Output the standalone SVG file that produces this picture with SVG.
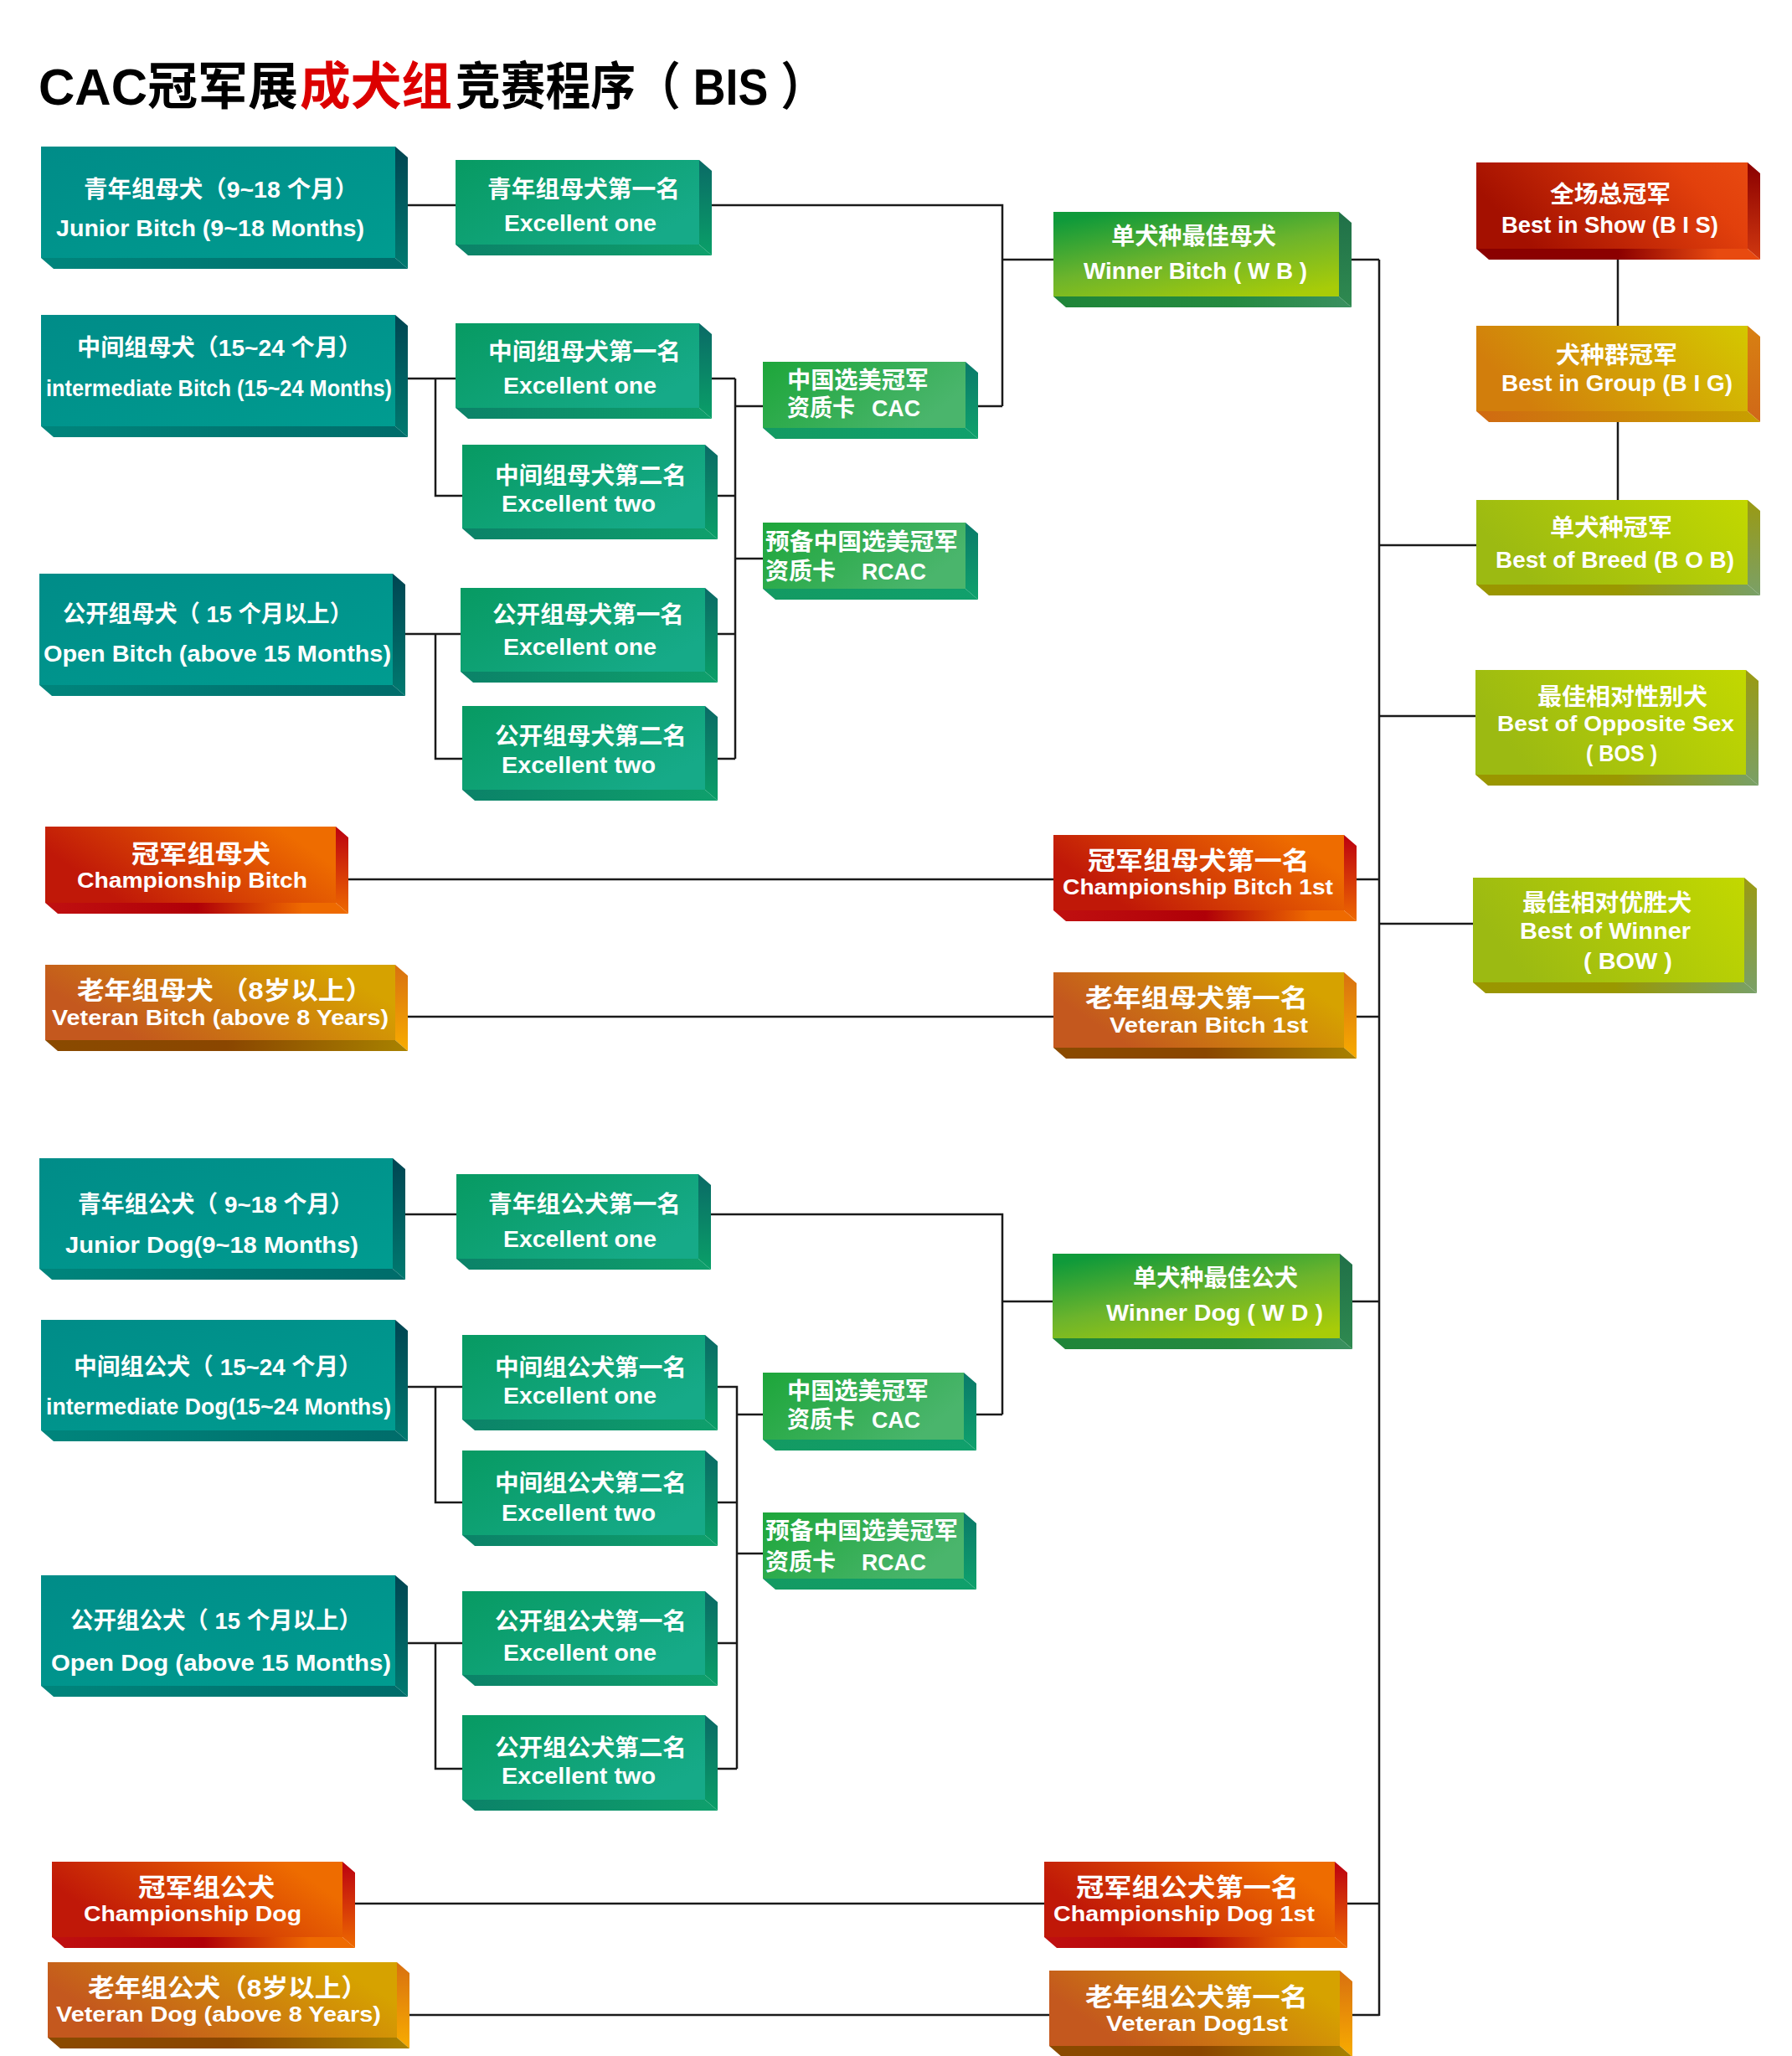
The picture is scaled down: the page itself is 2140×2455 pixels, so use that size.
<svg xmlns="http://www.w3.org/2000/svg" width="2140" height="2455" viewBox="0 0 2140 2455">
<style>
.cn{fill:#fff;font-family:"Liberation Sans","Noto Sans CJK SC","Noto Sans CJK JP",sans-serif;font-weight:700;font-size:28px}
.en{fill:#fff;font-family:"Liberation Sans",Arial,sans-serif;font-weight:700;font-size:27px}
.big{font-size:30px}
.sm{font-size:25px}
.tt{font-family:"Liberation Sans","Noto Sans CJK SC",sans-serif;font-weight:700;font-size:61px}
.ln{fill:none;stroke:#1a1a1a;stroke-width:2.5}
</style>
<defs>
<linearGradient id="tealF" x1="0" y1="0" x2="1" y2="1"><stop offset="0" stop-color="#008c88"/><stop offset="1" stop-color="#009c90"/></linearGradient>
<linearGradient id="tealS" x1="0" y1="0" x2="0" y2="1"><stop offset="0" stop-color="#004552"/><stop offset="1" stop-color="#007a70"/></linearGradient>
<linearGradient id="tealB" x1="0" y1="0" x2="1" y2="0"><stop offset="0" stop-color="#00857c"/><stop offset="1" stop-color="#006c6a"/></linearGradient>
<linearGradient id="grnF" x1="0" y1="0" x2="1" y2="0.6"><stop offset="0" stop-color="#079a62"/><stop offset="1" stop-color="#16aa88"/></linearGradient>
<linearGradient id="grnS" x1="0" y1="0" x2="0" y2="1"><stop offset="0" stop-color="#0a6a66"/><stop offset="1" stop-color="#0aa068"/></linearGradient>
<linearGradient id="grnB" x1="0" y1="0" x2="1" y2="0"><stop offset="0" stop-color="#0b8268"/><stop offset="1" stop-color="#0fa06c"/></linearGradient>
<linearGradient id="cacF" x1="0" y1="0" x2="1" y2="0.4"><stop offset="0" stop-color="#1da63a"/><stop offset="1" stop-color="#4ab56c"/></linearGradient>
<linearGradient id="cacS" x1="0" y1="0" x2="0" y2="1"><stop offset="0" stop-color="#0a7a6a"/><stop offset="1" stop-color="#0fa26c"/></linearGradient>
<linearGradient id="cacB" x1="0" y1="0" x2="1" y2="0"><stop offset="0" stop-color="#139a62"/><stop offset="1" stop-color="#10a06c"/></linearGradient>
<linearGradient id="wbF" x1="0.2" y1="0" x2="0.8" y2="1"><stop offset="0" stop-color="#0f9a3a"/><stop offset="0.5" stop-color="#6cb42c"/><stop offset="1" stop-color="#a8cc08"/></linearGradient>
<linearGradient id="wbS" x1="0" y1="0" x2="0" y2="1"><stop offset="0" stop-color="#207048"/><stop offset="1" stop-color="#2f8a50"/></linearGradient>
<linearGradient id="wbB" x1="0" y1="0" x2="1" y2="0"><stop offset="0" stop-color="#1f8538"/><stop offset="0.6" stop-color="#258a40"/><stop offset="1" stop-color="#3a9060"/></linearGradient>
<linearGradient id="redF" x1="0" y1="0.3" x2="1" y2="0"><stop offset="0" stop-color="#a41000"/><stop offset="0.75" stop-color="#e2400c"/><stop offset="1" stop-color="#e84a10"/></linearGradient>
<linearGradient id="redS" x1="0" y1="0" x2="0" y2="1"><stop offset="0" stop-color="#8a0000"/><stop offset="1" stop-color="#d03810"/></linearGradient>
<linearGradient id="redB" x1="0" y1="0" x2="1" y2="0"><stop offset="0" stop-color="#8a0000"/><stop offset="0.5" stop-color="#8c0000"/><stop offset="0.85" stop-color="#e84a10"/></linearGradient>
<linearGradient id="bigF" x1="0" y1="0.3" x2="1" y2="0"><stop offset="0" stop-color="#d27e0c"/><stop offset="1" stop-color="#d4c800"/></linearGradient>
<linearGradient id="bigS" x1="0" y1="0" x2="0" y2="1"><stop offset="0" stop-color="#d88012"/><stop offset="1" stop-color="#d06818"/></linearGradient>
<linearGradient id="bigB" x1="0" y1="0" x2="1" y2="0"><stop offset="0" stop-color="#d06a12"/><stop offset="1" stop-color="#c8a000"/></linearGradient>
<linearGradient id="ygF" x1="0" y1="0.3" x2="1" y2="0"><stop offset="0" stop-color="#9cba12"/><stop offset="1" stop-color="#c2d800"/></linearGradient>
<linearGradient id="ygS" x1="0" y1="0" x2="0" y2="1"><stop offset="0" stop-color="#9a9a12"/><stop offset="1" stop-color="#7aa068"/></linearGradient>
<linearGradient id="ygB" x1="0" y1="0" x2="1" y2="0"><stop offset="0" stop-color="#9a9600"/><stop offset="0.5" stop-color="#9a9800"/><stop offset="1" stop-color="#78a068"/></linearGradient>
<linearGradient id="chF" x1="0" y1="0.3" x2="0.8" y2="0"><stop offset="0" stop-color="#c01808"/><stop offset="1" stop-color="#ee6c00"/></linearGradient>
<linearGradient id="chS" x1="0" y1="0" x2="0" y2="1"><stop offset="0" stop-color="#bb0010"/><stop offset="1" stop-color="#ee6a00"/></linearGradient>
<linearGradient id="chB" x1="0" y1="0" x2="1" y2="0"><stop offset="0" stop-color="#c01010"/><stop offset="0.5" stop-color="#b00008"/><stop offset="0.85" stop-color="#ee6a00"/></linearGradient>
<linearGradient id="vtF" x1="0" y1="0.3" x2="0.8" y2="0"><stop offset="0" stop-color="#c4581e"/><stop offset="1" stop-color="#d6a200"/></linearGradient>
<linearGradient id="vtS" x1="0" y1="0" x2="0" y2="1"><stop offset="0" stop-color="#d87010"/><stop offset="1" stop-color="#f8ac00"/></linearGradient>
<linearGradient id="vtB" x1="0" y1="0" x2="1" y2="0"><stop offset="0" stop-color="#8a4a00"/><stop offset="0.5" stop-color="#8a4600"/><stop offset="1" stop-color="#a88200"/></linearGradient>
</defs>
<rect width="2140" height="2455" fill="#fff"/>

<g id="title">
<text class="tt" x="46" y="125" fill="#000" textLength="310" lengthAdjust="spacingAndGlyphs">CAC冠军展</text>
<text class="tt" x="358" y="125" fill="#dc0000" textLength="182" lengthAdjust="spacingAndGlyphs">成犬组</text>
<text class="tt" x="544" y="125" fill="#000" textLength="442" lengthAdjust="spacingAndGlyphs">竞赛程序（ BIS ）</text>
</g>

<g id="connectors" class="ln">
<path d="M487,245 H544 M850,245 H1197 V485 M1168,485 H1197 M1197,310 H1258 M1614,310 H1647 M1647,310 V2407"/>
<path d="M487,452 H544 M520,452 V592 H552 M850,452 H878 M878,452 V906 M857,592 H878 M857,757 H878 M857,906 H878 M878,485 H911 M878,667 H911"/>
<path d="M484,757 H550 M520,757 V906 H552"/>
<path d="M416,1050 H1258 M1620,1050 H1647 M487,1214 H1258 M1620,1214 H1647"/>
<path d="M1647,651 H1763 M1647,855 H1762 M1647,1103 H1759 M1932,310 V389 M1932,504 V597"/>
<path d="M484,1450 H545 M849,1450 H1197 V1689 M1166,1689 H1197 M1197,1554 H1257 M1615,1554 H1647"/>
<path d="M487,1656 H552 M520,1656 V1794 H552 M857,1656 H880 V2112 M857,1794 H880 M857,1962 H880 M857,2112 H880 M880,1689 H911 M880,1855 H911"/>
<path d="M487,1962 H552 M520,1962 V2112 H552"/>
<path d="M424,2273 H1247 M1609,2273 H1647 M489,2406 H1253 M1615,2406 H1647"/>
</g>

<!-- Bitch side -->
<g id="junior-bitch">
<polygon points="472,175 487,188 487,321 472,308" fill="url(#tealS)"/>
<polygon points="49,308 472,308 487,321 64,321" fill="url(#tealB)"/>
<rect x="49" y="175" width="423" height="133" fill="url(#tealF)"/>
<text class="cn" x="100" y="236" textLength="328" lengthAdjust="spacingAndGlyphs">青年组母犬（9~18 个月）</text>
<text class="en" x="67" y="282" textLength="368" lengthAdjust="spacingAndGlyphs">Junior Bitch (9~18 Months)</text>
</g>
<g id="intermediate-bitch">
<polygon points="472,376 487,389 487,522 472,509" fill="url(#tealS)"/>
<polygon points="49,509 472,509 487,522 64,522" fill="url(#tealB)"/>
<rect x="49" y="376" width="423" height="133" fill="url(#tealF)"/>
<text class="cn" x="92" y="425" textLength="340" lengthAdjust="spacingAndGlyphs">中间组母犬（15~24 个月）</text>
<text class="en" x="55" y="473" textLength="413" lengthAdjust="spacingAndGlyphs">intermediate Bitch (15~24 Months)</text>
</g>
<g id="open-bitch">
<polygon points="469,685 484,698 484,831 469,818" fill="url(#tealS)"/>
<polygon points="47,818 469,818 484,831 62,831" fill="url(#tealB)"/>
<rect x="47" y="685" width="422" height="133" fill="url(#tealF)"/>
<text class="cn" x="75" y="743" textLength="346" lengthAdjust="spacingAndGlyphs">公开组母犬（ 15 个月以上）</text>
<text class="en" x="52" y="790" textLength="415" lengthAdjust="spacingAndGlyphs">Open Bitch (above 15 Months)</text>
</g>
<g id="champ-bitch">
<polygon points="401,987 416,1000 416,1091 401,1078" fill="url(#chS)"/>
<polygon points="54,1078 401,1078 416,1091 69,1091" fill="url(#chB)"/>
<rect x="54" y="987" width="347" height="91" fill="url(#chF)"/>
<text class="cn big" x="157" y="1030" textLength="166" lengthAdjust="spacingAndGlyphs">冠军组母犬</text>
<text class="en sm" x="92" y="1060" textLength="275" lengthAdjust="spacingAndGlyphs">Championship Bitch</text>
</g>
<g id="veteran-bitch">
<polygon points="472,1152 487,1165 487,1255 472,1242" fill="url(#vtS)"/>
<polygon points="54,1242 472,1242 487,1255 69,1255" fill="url(#vtB)"/>
<rect x="54" y="1152" width="418" height="90" fill="url(#vtF)"/>
<text class="cn big" x="92" y="1193" textLength="353" lengthAdjust="spacingAndGlyphs">老年组母犬 （8岁以上）</text>
<text class="en sm" x="62" y="1224" textLength="402" lengthAdjust="spacingAndGlyphs">Veteran Bitch (above 8 Years)</text>
</g>

<g id="junior-bitch-1">
<polygon points="835,191 850,204 850,305 835,292" fill="url(#grnS)"/>
<polygon points="544,292 835,292 850,305 559,305" fill="url(#grnB)"/>
<rect x="544" y="191" width="291" height="101" fill="url(#grnF)"/>
<text class="cn" x="582" y="236" textLength="230" lengthAdjust="spacingAndGlyphs">青年组母犬第一名</text>
<text class="en" x="602" y="276" textLength="182" lengthAdjust="spacingAndGlyphs">Excellent one</text>
</g>
<g id="intermediate-bitch-1">
<polygon points="835,386 850,399 850,500 835,487" fill="url(#grnS)"/>
<polygon points="544,487 835,487 850,500 559,500" fill="url(#grnB)"/>
<rect x="544" y="386" width="291" height="101" fill="url(#grnF)"/>
<text class="cn" x="583" y="430" textLength="230" lengthAdjust="spacingAndGlyphs">中间组母犬第一名</text>
<text class="en" x="601" y="470" textLength="183" lengthAdjust="spacingAndGlyphs">Excellent one</text>
</g>
<g id="intermediate-bitch-2">
<polygon points="842,531 857,544 857,644 842,631" fill="url(#grnS)"/>
<polygon points="552,631 842,631 857,644 567,644" fill="url(#grnB)"/>
<rect x="552" y="531" width="290" height="100" fill="url(#grnF)"/>
<text class="cn" x="591" y="578" textLength="229" lengthAdjust="spacingAndGlyphs">中间组母犬第二名</text>
<text class="en" x="599" y="611" textLength="184" lengthAdjust="spacingAndGlyphs">Excellent two</text>
</g>
<g id="open-bitch-1">
<polygon points="842,702 857,715 857,815 842,802" fill="url(#grnS)"/>
<polygon points="550,802 842,802 857,815 565,815" fill="url(#grnB)"/>
<rect x="550" y="702" width="292" height="100" fill="url(#grnF)"/>
<text class="cn" x="588" y="744" textLength="229" lengthAdjust="spacingAndGlyphs">公开组母犬第一名</text>
<text class="en" x="601" y="782" textLength="183" lengthAdjust="spacingAndGlyphs">Excellent one</text>
</g>
<g id="open-bitch-2">
<polygon points="842,843 857,856 857,956 842,943" fill="url(#grnS)"/>
<polygon points="552,943 842,943 857,956 567,956" fill="url(#grnB)"/>
<rect x="552" y="843" width="290" height="100" fill="url(#grnF)"/>
<text class="cn" x="591" y="889" textLength="229" lengthAdjust="spacingAndGlyphs">公开组母犬第二名</text>
<text class="en" x="599" y="923" textLength="184" lengthAdjust="spacingAndGlyphs">Excellent two</text>
</g>

<g id="cac-bitch">
<polygon points="1153,432 1168,445 1168,524 1153,511" fill="url(#cacS)"/>
<polygon points="911,511 1153,511 1168,524 926,524" fill="url(#cacB)"/>
<rect x="911" y="432" width="242" height="79" fill="url(#cacF)"/>
<text class="cn" x="940" y="464" textLength="169" lengthAdjust="spacingAndGlyphs">中国选美冠军</text>
<text class="cn" x="940" y="497" textLength="81" lengthAdjust="spacingAndGlyphs">资质卡</text>
<text class="en" x="1041" y="497" textLength="58" lengthAdjust="spacingAndGlyphs">CAC</text>
</g>
<g id="rcac-bitch">
<polygon points="1153,624 1168,637 1168,716 1153,703" fill="url(#cacS)"/>
<polygon points="911,703 1153,703 1168,716 926,716" fill="url(#cacB)"/>
<rect x="911" y="624" width="242" height="79" fill="url(#cacF)"/>
<text class="cn" x="914" y="657" textLength="230" lengthAdjust="spacingAndGlyphs">预备中国选美冠军</text>
<text class="cn" x="914" y="692" textLength="84" lengthAdjust="spacingAndGlyphs">资质卡</text>
<text class="en" x="1029" y="692" textLength="77" lengthAdjust="spacingAndGlyphs">RCAC</text>
</g>

<g id="winner-bitch">
<polygon points="1599,253 1614,266 1614,367 1599,354" fill="url(#wbS)"/>
<polygon points="1258,354 1599,354 1614,367 1273,367" fill="url(#wbB)"/>
<rect x="1258" y="253" width="341" height="101" fill="url(#wbF)"/>
<text class="cn" x="1327" y="292" textLength="197" lengthAdjust="spacingAndGlyphs">单犬种最佳母犬</text>
<text class="en" x="1294" y="333" textLength="267" lengthAdjust="spacingAndGlyphs">Winner Bitch ( W B )</text>
</g>
<g id="champ-bitch-1">
<polygon points="1605,997 1620,1010 1620,1100 1605,1087" fill="url(#chS)"/>
<polygon points="1258,1087 1605,1087 1620,1100 1273,1100" fill="url(#chB)"/>
<rect x="1258" y="997" width="347" height="90" fill="url(#chF)"/>
<text class="cn big" x="1299" y="1038" textLength="265" lengthAdjust="spacingAndGlyphs">冠军组母犬第一名</text>
<text class="en sm" x="1269" y="1068" textLength="323" lengthAdjust="spacingAndGlyphs">Championship Bitch 1st</text>
</g>
<g id="veteran-bitch-1">
<polygon points="1605,1161 1620,1174 1620,1264 1605,1251" fill="url(#vtS)"/>
<polygon points="1258,1251 1605,1251 1620,1264 1273,1264" fill="url(#vtB)"/>
<rect x="1258" y="1161" width="347" height="90" fill="url(#vtF)"/>
<text class="cn big" x="1296" y="1202" textLength="266" lengthAdjust="spacingAndGlyphs">老年组母犬第一名</text>
<text class="en sm" x="1325" y="1233" textLength="237" lengthAdjust="spacingAndGlyphs">Veteran Bitch 1st</text>
</g>

<!-- Right column -->
<g id="bis">
<polygon points="2087,194 2102,207 2102,310 2087,297" fill="url(#redS)"/>
<polygon points="1763,297 2087,297 2102,310 1778,310" fill="url(#redB)"/>
<rect x="1763" y="194" width="324" height="103" fill="url(#redF)"/>
<text class="cn" x="1851" y="242" textLength="144" lengthAdjust="spacingAndGlyphs">全场总冠军</text>
<text class="en" x="1793" y="278" textLength="259" lengthAdjust="spacingAndGlyphs">Best in Show (B I S)</text>
</g>
<g id="big">
<polygon points="2087,389 2102,402 2102,504 2087,491" fill="url(#bigS)"/>
<polygon points="1763,491 2087,491 2102,504 1778,504" fill="url(#bigB)"/>
<rect x="1763" y="389" width="324" height="102" fill="url(#bigF)"/>
<text class="cn" x="1858" y="434" textLength="145" lengthAdjust="spacingAndGlyphs">犬种群冠军</text>
<text class="en" x="1793" y="467" textLength="276" lengthAdjust="spacingAndGlyphs">Best in Group (B I G)</text>
</g>
<g id="bob">
<polygon points="2087,597 2102,610 2102,711 2087,698" fill="url(#ygS)"/>
<polygon points="1763,698 2087,698 2102,711 1778,711" fill="url(#ygB)"/>
<rect x="1763" y="597" width="324" height="101" fill="url(#ygF)"/>
<text class="cn" x="1851" y="640" textLength="146" lengthAdjust="spacingAndGlyphs">单犬种冠军</text>
<text class="en" x="1786" y="678" textLength="285" lengthAdjust="spacingAndGlyphs">Best of Breed (B O B)</text>
</g>
<g id="bos">
<polygon points="2085,800 2100,813 2100,938 2085,925" fill="url(#ygS)"/>
<polygon points="1762,925 2085,925 2100,938 1777,938" fill="url(#ygB)"/>
<rect x="1762" y="800" width="323" height="125" fill="url(#ygF)"/>
<text class="cn" x="1836" y="842" textLength="203" lengthAdjust="spacingAndGlyphs">最佳相对性别犬</text>
<text class="en" x="1788" y="873" style="font-size:26px" textLength="283" lengthAdjust="spacingAndGlyphs">Best of Opposite Sex</text>
<text class="en" x="1894" y="909" textLength="85" lengthAdjust="spacingAndGlyphs">( BOS )</text>
</g>
<g id="bow">
<polygon points="2083,1048 2098,1061 2098,1186 2083,1173" fill="url(#ygS)"/>
<polygon points="1759,1173 2083,1173 2098,1186 1774,1186" fill="url(#ygB)"/>
<rect x="1759" y="1048" width="324" height="125" fill="url(#ygF)"/>
<text class="cn" x="1818" y="1088" textLength="202" lengthAdjust="spacingAndGlyphs">最佳相对优胜犬</text>
<text class="en" x="1815" y="1121" textLength="204" lengthAdjust="spacingAndGlyphs">Best of Winner</text>
<text class="en" x="1891" y="1157" textLength="106" lengthAdjust="spacingAndGlyphs">( BOW )</text>
</g>

<!-- Dog side -->
<g id="junior-dog">
<polygon points="469,1383 484,1396 484,1528 469,1515" fill="url(#tealS)"/>
<polygon points="47,1515 469,1515 484,1528 62,1528" fill="url(#tealB)"/>
<rect x="47" y="1383" width="422" height="132" fill="url(#tealF)"/>
<text class="cn" x="93" y="1448" textLength="329" lengthAdjust="spacingAndGlyphs">青年组公犬（ 9~18 个月）</text>
<text class="en" x="78" y="1496" textLength="350" lengthAdjust="spacingAndGlyphs">Junior Dog(9~18 Months)</text>
</g>
<g id="intermediate-dog">
<polygon points="472,1576 487,1589 487,1721 472,1708" fill="url(#tealS)"/>
<polygon points="49,1708 472,1708 487,1721 64,1721" fill="url(#tealB)"/>
<rect x="49" y="1576" width="423" height="132" fill="url(#tealF)"/>
<text class="cn" x="88" y="1642" textLength="344" lengthAdjust="spacingAndGlyphs">中间组公犬（ 15~24 个月）</text>
<text class="en" x="55" y="1689" textLength="412" lengthAdjust="spacingAndGlyphs">intermediate Dog(15~24 Months)</text>
</g>
<g id="open-dog">
<polygon points="472,1881 487,1894 487,2026 472,2013" fill="url(#tealS)"/>
<polygon points="49,2013 472,2013 487,2026 64,2026" fill="url(#tealB)"/>
<rect x="49" y="1881" width="423" height="132" fill="url(#tealF)"/>
<text class="cn" x="84" y="1945" textLength="348" lengthAdjust="spacingAndGlyphs">公开组公犬（ 15 个月以上）</text>
<text class="en" x="61" y="1995" textLength="406" lengthAdjust="spacingAndGlyphs">Open Dog (above 15 Months)</text>
</g>
<g id="champ-dog">
<polygon points="409,2223 424,2236 424,2326 409,2313" fill="url(#chS)"/>
<polygon points="62,2313 409,2313 424,2326 77,2326" fill="url(#chB)"/>
<rect x="62" y="2223" width="347" height="90" fill="url(#chF)"/>
<text class="cn big" x="165" y="2264" textLength="163" lengthAdjust="spacingAndGlyphs">冠军组公犬</text>
<text class="en sm" x="100" y="2294" textLength="260" lengthAdjust="spacingAndGlyphs">Championship Dog</text>
</g>
<g id="veteran-dog">
<polygon points="474,2343 489,2356 489,2446 474,2433" fill="url(#vtS)"/>
<polygon points="57,2433 474,2433 489,2446 72,2446" fill="url(#vtB)"/>
<rect x="57" y="2343" width="417" height="90" fill="url(#vtF)"/>
<text class="cn big" x="105" y="2384" textLength="334" lengthAdjust="spacingAndGlyphs">老年组公犬（8岁以上）</text>
<text class="en sm" x="67" y="2414" textLength="388" lengthAdjust="spacingAndGlyphs">Veteran Dog (above 8 Years)</text>
</g>

<g id="junior-dog-1">
<polygon points="834,1402 849,1415 849,1516 834,1503" fill="url(#grnS)"/>
<polygon points="545,1503 834,1503 849,1516 560,1516" fill="url(#grnB)"/>
<rect x="545" y="1402" width="289" height="101" fill="url(#grnF)"/>
<text class="cn" x="583" y="1448" textLength="230" lengthAdjust="spacingAndGlyphs">青年组公犬第一名</text>
<text class="en" x="601" y="1489" textLength="183" lengthAdjust="spacingAndGlyphs">Excellent one</text>
</g>
<g id="intermediate-dog-1">
<polygon points="842,1594 857,1607 857,1708 842,1695" fill="url(#grnS)"/>
<polygon points="552,1695 842,1695 857,1708 567,1708" fill="url(#grnB)"/>
<rect x="552" y="1594" width="290" height="101" fill="url(#grnF)"/>
<text class="cn" x="591" y="1643" textLength="229" lengthAdjust="spacingAndGlyphs">中间组公犬第一名</text>
<text class="en" x="601" y="1676" textLength="183" lengthAdjust="spacingAndGlyphs">Excellent one</text>
</g>
<g id="intermediate-dog-2">
<polygon points="842,1732 857,1745 857,1846 842,1833" fill="url(#grnS)"/>
<polygon points="552,1833 842,1833 857,1846 567,1846" fill="url(#grnB)"/>
<rect x="552" y="1732" width="290" height="101" fill="url(#grnF)"/>
<text class="cn" x="591" y="1781" textLength="229" lengthAdjust="spacingAndGlyphs">中间组公犬第二名</text>
<text class="en" x="599" y="1816" textLength="184" lengthAdjust="spacingAndGlyphs">Excellent two</text>
</g>
<g id="open-dog-1">
<polygon points="842,1900 857,1913 857,2013 842,2000" fill="url(#grnS)"/>
<polygon points="552,2000 842,2000 857,2013 567,2013" fill="url(#grnB)"/>
<rect x="552" y="1900" width="290" height="100" fill="url(#grnF)"/>
<text class="cn" x="591" y="1946" textLength="229" lengthAdjust="spacingAndGlyphs">公开组公犬第一名</text>
<text class="en" x="601" y="1983" textLength="183" lengthAdjust="spacingAndGlyphs">Excellent one</text>
</g>
<g id="open-dog-2">
<polygon points="842,2048 857,2061 857,2162 842,2149" fill="url(#grnS)"/>
<polygon points="552,2149 842,2149 857,2162 567,2162" fill="url(#grnB)"/>
<rect x="552" y="2048" width="290" height="101" fill="url(#grnF)"/>
<text class="cn" x="591" y="2097" textLength="229" lengthAdjust="spacingAndGlyphs">公开组公犬第二名</text>
<text class="en" x="599" y="2130" textLength="184" lengthAdjust="spacingAndGlyphs">Excellent two</text>
</g>

<g id="cac-dog">
<polygon points="1151,1639 1166,1652 1166,1732 1151,1719" fill="url(#cacS)"/>
<polygon points="911,1719 1151,1719 1166,1732 926,1732" fill="url(#cacB)"/>
<rect x="911" y="1639" width="240" height="80" fill="url(#cacF)"/>
<text class="cn" x="940" y="1671" textLength="169" lengthAdjust="spacingAndGlyphs">中国选美冠军</text>
<text class="cn" x="940" y="1705" textLength="81" lengthAdjust="spacingAndGlyphs">资质卡</text>
<text class="en" x="1041" y="1705" textLength="58" lengthAdjust="spacingAndGlyphs">CAC</text>
</g>
<g id="rcac-dog">
<polygon points="1151,1806 1166,1819 1166,1898 1151,1885" fill="url(#cacS)"/>
<polygon points="911,1885 1151,1885 1166,1898 926,1898" fill="url(#cacB)"/>
<rect x="911" y="1806" width="240" height="79" fill="url(#cacF)"/>
<text class="cn" x="914" y="1838" textLength="230" lengthAdjust="spacingAndGlyphs">预备中国选美冠军</text>
<text class="cn" x="914" y="1875" textLength="84" lengthAdjust="spacingAndGlyphs">资质卡</text>
<text class="en" x="1029" y="1875" textLength="77" lengthAdjust="spacingAndGlyphs">RCAC</text>
</g>

<g id="winner-dog">
<polygon points="1600,1497 1615,1510 1615,1611 1600,1598" fill="url(#wbS)"/>
<polygon points="1257,1598 1600,1598 1615,1611 1272,1611" fill="url(#wbB)"/>
<rect x="1257" y="1497" width="343" height="101" fill="url(#wbF)"/>
<text class="cn" x="1353" y="1536" textLength="197" lengthAdjust="spacingAndGlyphs">单犬种最佳公犬</text>
<text class="en" x="1321" y="1577" textLength="259" lengthAdjust="spacingAndGlyphs">Winner Dog ( W D )</text>
</g>
<g id="champ-dog-1">
<polygon points="1594,2223 1609,2236 1609,2326 1594,2313" fill="url(#chS)"/>
<polygon points="1247,2313 1594,2313 1609,2326 1262,2326" fill="url(#chB)"/>
<rect x="1247" y="2223" width="347" height="90" fill="url(#chF)"/>
<text class="cn big" x="1285" y="2264" textLength="266" lengthAdjust="spacingAndGlyphs">冠军组公犬第一名</text>
<text class="en sm" x="1258" y="2294" textLength="312" lengthAdjust="spacingAndGlyphs">Championship Dog 1st</text>
</g>
<g id="veteran-dog-1">
<polygon points="1600,2353 1615,2366 1615,2456 1600,2443" fill="url(#vtS)"/>
<polygon points="1253,2443 1600,2443 1615,2456 1268,2456" fill="url(#vtB)"/>
<rect x="1253" y="2353" width="347" height="90" fill="url(#vtF)"/>
<text class="cn big" x="1296" y="2395" textLength="266" lengthAdjust="spacingAndGlyphs">老年组公犬第一名</text>
<text class="en sm" x="1321" y="2425" textLength="217" lengthAdjust="spacingAndGlyphs">Veteran Dog1st</text>
</g>
</svg>
